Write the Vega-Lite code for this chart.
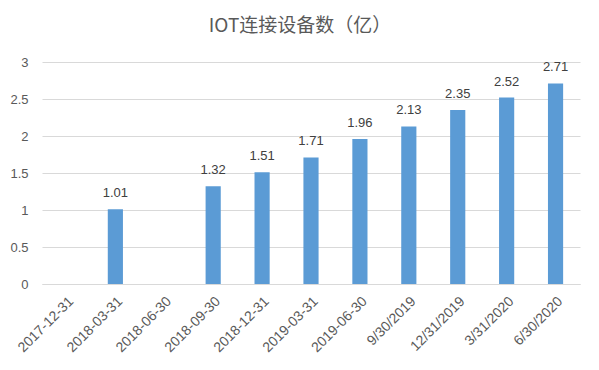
{
  "$schema": "https://vega.github.io/schema/vega-lite/v6.json",
  "width": 538,
  "height": 222,
  "autosize": "none",
  "padding": {"left": 42, "top": 62, "right": 19, "bottom": 86},
  "background": "white",
  "title": {
    "text": "IOT连接设备数（亿）",
    "font": "Noto Sans CJK SC",
    "fontSize": 19,
    "fontWeight": "normal",
    "color": "#595959",
    "anchor": "middle",
    "dx": -11,
    "offset": 20
  },
  "data": {
    "values": [
      {"date": "2017-12-31", "value": null},
      {"date": "2018-03-31", "value": 1.01},
      {"date": "2018-06-30", "value": null},
      {"date": "2018-09-30", "value": 1.32},
      {"date": "2018-12-31", "value": 1.51},
      {"date": "2019-03-31", "value": 1.71},
      {"date": "2019-06-30", "value": 1.96},
      {"date": "9/30/2019", "value": 2.13},
      {"date": "12/31/2019", "value": 2.35},
      {"date": "3/31/2020", "value": 2.52},
      {"date": "6/30/2020", "value": 2.71}
    ]
  },
  "encoding": {
    "x": {
      "field": "date",
      "type": "nominal",
      "sort": null,
      "scale": {
        "domain": ["2017-12-31", "2018-03-31", "2018-06-30", "2018-09-30", "2018-12-31", "2019-03-31", "2019-06-30", "9/30/2019", "12/31/2019", "3/31/2020", "6/30/2020"],
        "paddingInner": 0.69,
        "paddingOuter": 0.345
      },
      "axis": {
        "title": null,
        "labelAngle": -45,
        "labelFont": "Liberation Sans",
        "labelFontSize": 14,
        "labelColor": "#595959",
        "ticks": false,
        "domainColor": "#D9D9D9",
        "labelPadding": 10
      }
    },
    "y": {
      "field": "value",
      "type": "quantitative",
      "scale": {"domain": [0, 3]},
      "axis": {
        "title": null,
        "values": [0, 0.5, 1, 1.5, 2, 2.5, 3],
        "format": "~g",
        "labelFont": "Liberation Sans",
        "labelFontSize": 13,
        "labelColor": "#595959",
        "ticks": false,
        "domain": false,
        "gridColor": "#D9D9D9",
        "labelPadding": 14
      }
    }
  },
  "layer": [
    {"mark": {"type": "bar", "color": "#5B9BD5"}},
    {
      "transform": [{"filter": "datum.value != null"}],
      "mark": {
        "type": "text",
        "dy": -16,
        "font": "Liberation Sans",
        "fontSize": 13,
        "color": "#404040"
      },
      "encoding": {"text": {"field": "value", "type": "quantitative", "format": ".2f"}}
    }
  ],
  "config": {"view": {"stroke": null}}
}
